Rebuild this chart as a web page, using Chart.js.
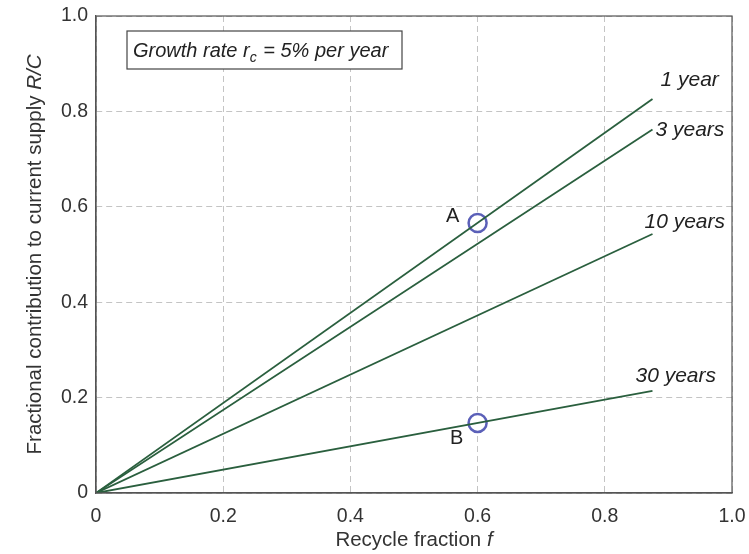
<!DOCTYPE html>
<html><head><meta charset="utf-8">
<script src="https://cdn.jsdelivr.net/npm/chart.js@4"></script>
<style>html,body{margin:0;padding:0;background:#fff}#wrap{width:749px;height:554px;position:relative}</style>
</head><body><div id="wrap"><canvas id="c"></canvas></div>
<script>
// ---- data ----
const xTickLabels = ['0', '0.2', '0.4', '0.6', '0.8', '1.0'];
const yTickLabels = ['0', '0.2', '0.4', '0.6', '0.8', '1.0'];
const recycleFraction = [0, 0.875];
const contribution1yr = [0, 0.826];
const contribution3yr = [0, 0.762];
const contribution10yr = [0, 0.543];
const contribution30yr = [0, 0.214];
const seriesNames = ['1 year', '3 years', '10 years', '30 years'];
const markerNames = ['A', 'B'];
const markerX = [0.6, 0.6];
const markerY = [0.566, 0.147];

// ---- styling / layout (not data) ----
const FONT = '"Liberation Sans", Arial, sans-serif';
const LINE_COLOR = '#2a5f3e';
const MARK_COLOR = '#5b60b8';
const labelOffsets = [[8, -19], [3, 1], [-8, -12], [-17, -15]];
const markerLabelOffsets = [[-25, -7], [-21, 16]];

const seriesArrays = [contribution1yr, contribution3yr, contribution10yr, contribution30yr];
const datasets = seriesArrays.map((arr, i) => ({
  label: seriesNames[i],
  data: recycleFraction.map((x, j) => ({x, y: arr[j]})),
  borderColor: LINE_COLOR,
  borderWidth: 1.8,
  pointRadius: 0,
  showLine: true,
  fill: false,
  tension: 0
}));
datasets.push({
  label: 'markers',
  data: markerX.map((x, i) => ({x, y: markerY[i]})),
  showLine: false,
  pointRadius: 9,
  pointBorderWidth: 2.5,
  pointBackgroundColor: '#ffffff',
  pointBorderColor: MARK_COLOR
});

function mixedText(ctx, parts, x, y, align) {
  const widths = parts.map(([t, it]) => { ctx.font = (it ? 'italic ' : '') + ctx._sz + 'px ' + FONT; return ctx.measureText(t).width; });
  const total = widths.reduce((a, b) => a + b, 0);
  let cx = align === 'center' ? x - total / 2 : x;
  parts.forEach(([t, it], i) => {
    ctx.font = (it ? 'italic ' : '') + ctx._sz + 'px ' + FONT;
    ctx.fillText(t, cx, y);
    cx += widths[i];
  });
}

const annotate = {
  id: 'annotate',
  afterDraw(chart) {
    const ctx = chart.ctx, xs = chart.scales.x, ys = chart.scales.y, ca = chart.chartArea;
    ctx.save();
    // frame
    ctx.strokeStyle = '#555';
    ctx.lineWidth = 1.2;
    ctx.strokeRect(ca.left, ca.top, ca.right - ca.left, ca.bottom - ca.top);
    // series labels
    ctx.fillStyle = '#222';
    ctx.font = 'italic 21px ' + FONT;
    ctx.textBaseline = 'middle';
    ctx.textAlign = 'left';
    seriesArrays.forEach((arr, i) => {
      const n = arr.length - 1;
      const px = xs.getPixelForValue(recycleFraction[n]);
      const py = ys.getPixelForValue(arr[n]);
      ctx.fillText(seriesNames[i], px + labelOffsets[i][0], py + labelOffsets[i][1]);
    });
    // marker labels
    ctx.font = '20px ' + FONT;
    ctx.textAlign = 'center';
    markerNames.forEach((m, i) => {
      const px = xs.getPixelForValue(markerX[i]);
      const py = ys.getPixelForValue(markerY[i]);
      ctx.fillText(m, px + markerLabelOffsets[i][0], py + markerLabelOffsets[i][1]);
    });
    // text box
    const bx = xs.getPixelForValue(0) + 31, by = ys.getPixelForValue(1) + 15;
    const bw = 275, bh = 38;
    ctx.fillStyle = '#fff';
    ctx.fillRect(bx, by, bw, bh);
    ctx.strokeStyle = '#444';
    ctx.lineWidth = 1.2;
    ctx.strokeRect(bx, by, bw, bh);
    ctx.fillStyle = '#222';
    ctx.textAlign = 'left';
    ctx.textBaseline = 'alphabetic';
    ctx.font = 'italic 20px ' + FONT;
    let tx = bx + 6, ty = by + 26;
    const p1 = 'Growth rate r';
    ctx.fillText(p1, tx, ty); tx += ctx.measureText(p1).width;
    ctx.font = 'italic 14px ' + FONT;
    ctx.fillText('c', tx, ty + 5); tx += ctx.measureText('c').width + 1;
    ctx.font = 'italic 20px ' + FONT;
    ctx.fillText(' = 5% per year', tx, ty);
    // axis titles
    ctx.fillStyle = '#333';
    ctx.textAlign = 'left';
    ctx.textBaseline = 'middle';
    ctx._sz = 20.5;
    mixedText(ctx, [['Recycle fraction ', false], ['f', true]], (ca.left + ca.right) / 2, 540, 'center');
    // y title rotated
    ctx.translate(35, (ca.top + ca.bottom) / 2);
    ctx.rotate(-Math.PI / 2);
    ctx._sz = 20.5;
    mixedText(ctx, [['Fractional contribution to current supply ', false], ['R/C', true]], 0, 0, 'center');
    ctx.restore();
  }
};

function zeroPad(s) { s.paddingTop = 0; s.paddingBottom = 0; s.paddingLeft = 0; s.paddingRight = 0; }

new Chart(document.getElementById('c'), {
  type: 'scatter',
  data: {datasets},
  options: {
    responsive: true,
    maintainAspectRatio: false,
    animation: false,
    layout: {padding: {top: 16, right: 17, left: 0, bottom: 0}},
    plugins: {legend: {display: false}, tooltip: {enabled: false}},
    scales: {
      x: {
        type: 'linear', min: 0, max: 1,
        afterFit(s) { s.height = 61; zeroPad(s); },
        border: {display: true, color: '#555', width: 1.2, dash: [6, 4]},
        grid: {color: '#c4c4c4', lineWidth: 1, drawTicks: false},
        ticks: {
          stepSize: 0.2, padding: 12, color: '#333',
          font: {family: FONT, size: 19.5},
          callback: (v, i) => xTickLabels[i]
        }
      },
      y: {
        type: 'linear', min: 0, max: 1,
        afterFit(s) { s.width = 96; zeroPad(s); },
        border: {display: true, color: '#555', width: 1.2, dash: [6, 4]},
        grid: {color: '#c4c4c4', lineWidth: 1, drawTicks: false},
        ticks: {
          stepSize: 0.2, padding: 8, color: '#333',
          font: {family: FONT, size: 19.5},
          callback: (v, i) => yTickLabels[i]
        }
      }
    }
  },
  plugins: [annotate]
});
</script>
</body></html>
